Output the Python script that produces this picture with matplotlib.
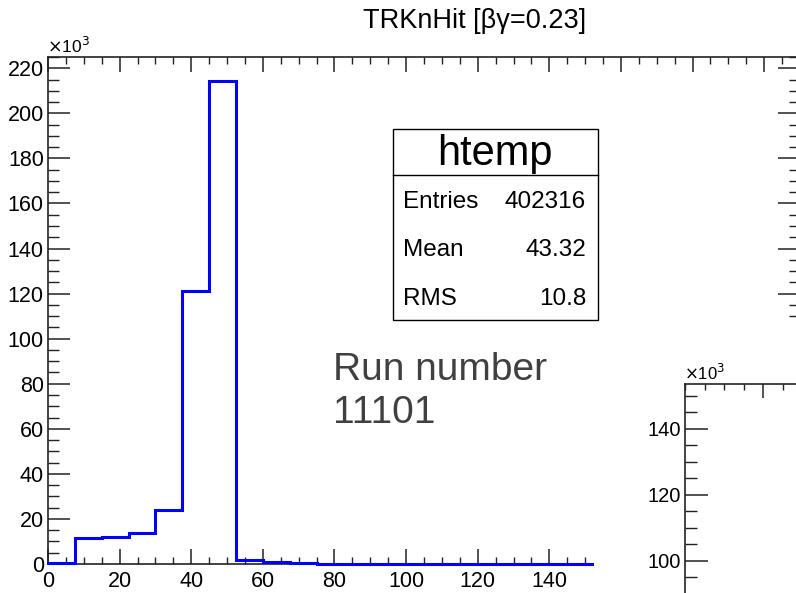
import numpy as np
import matplotlib
matplotlib.use("Agg")
import matplotlib.pyplot as plt
from matplotlib.patches import Rectangle
from matplotlib.lines import Line2D
from matplotlib.ticker import MultipleLocator, FixedLocator

plt.rcParams['font.family'] = ['Liberation Sans', 'DejaVu Sans']

# ---------------- data ----------------
title = "TRKnHit [\u03b2\u03b3=0.23]"
bin_width = 7.5
bin_start = 0.0
# counts per bin, in units of 10^3 entries (bins of width 7.5 from 0 to 210)
counts_k = [0.3, 11.5, 12.0, 13.6, 23.8, 121.2, 214.4, 1.8,
            0.75, 0.3, 0.2, 0.15, 0.15, 0.1, 0.1, 0.1,
            0.1, 0.1, 0.05, 0.05, 0.05, 0.05, 0.0, 0.0,
            0.0, 0.0, 0.0, 0.0]
stats_name = "htemp"
stats_labels = ["Entries", "Mean", "RMS"]
stats_values = ["402316", "43.32", "10.8"]
annotation_lines = ["Run number", "11101"]
x_range = (0, 210)
x_labelled_ticks = [0, 20, 40, 60, 80, 100, 120, 140]
y_range_k = (0, 225)
inset_y_range_k = (60, 153.6)
inset_y_labelled = [100, 120, 140]
inset_x_range = (1, 12)

# ---------------- figure ----------------
W, H = 796, 593
fig = plt.figure(figsize=(W / 100, H / 100), dpi=100)
fig.patch.set_facecolor('white')

def fx(x):
    return x / W

def fy(y):
    return (H - y) / H

AX_COL = '#222222'

# main axes (right edge lies just beyond the picture)
L, R, T, B = 48, 800, 57, 564
ax = fig.add_axes([fx(L), fy(B), fx(R - L), (B - T) / H])
edges = bin_start + bin_width * np.arange(len(counts_k) + 1)
ax.stairs(counts_k, edges, color='#0000ff', lw=2.2, baseline=0, zorder=3, clip_on=False)
ax.set_xlim(*x_range)
ax.set_ylim(*y_range_k)
for s in ax.spines.values():
    s.set_color(AX_COL)
    s.set_linewidth(1.2)
ax.xaxis.set_major_locator(FixedLocator(x_labelled_ticks + [160, 180, 200]))
ax.xaxis.set_minor_locator(MultipleLocator(5))
ax.yaxis.set_major_locator(MultipleLocator(20))
ax.yaxis.set_minor_locator(MultipleLocator(5))
ax.set_xticklabels([str(v) for v in x_labelled_ticks] + ["", "", ""])
ax.tick_params(axis='both', which='both', direction='in', colors=AX_COL,
               top=True, right=True, labelsize=15.5)
ax.tick_params(axis='x', which='major', length=10.8, width=1.1, pad=5)
ax.tick_params(axis='x', which='minor', length=5, width=1.0)
ax.tick_params(axis='y', which='major', length=15.8, width=1.1, pad=3)
ax.tick_params(axis='y', which='minor', length=8, width=1.0)
for lab in ax.get_xticklabels() + ax.get_yticklabels():
    lab.set_color('black')

fig.text(fx(47), fy(53), r"$\times$10$^{3}$", fontsize=12.5, ha='left', va='baseline')

# title
fig.text(fx(475), fy(28), title, fontsize=19.5, ha='center', va='baseline')

# stats box
bx0, by0, bx1, by1, bdiv = 393, 129, 598, 320, 175
fig.patches.append(Rectangle((fx(bx0), fy(by1)), fx(bx1 - bx0), (by1 - by0) / H,
                             transform=fig.transFigure, facecolor='white',
                             edgecolor='black', lw=1.0, zorder=5))
fig.lines.append(Line2D([fx(bx0), fx(bx1)], [fy(bdiv), fy(bdiv)],
                        transform=fig.transFigure, color='black', lw=1.0, zorder=6))
fig.text(fx(495), fy(165), stats_name, fontsize=30, ha='center', va='baseline', zorder=7)
for i, (lab, val) in enumerate(zip(stats_labels, stats_values)):
    yb = 208 + i * 48.5
    fig.text(fx(403), fy(yb), lab, fontsize=17.5, ha='left', va='baseline', zorder=7)
    fig.text(fx(586), fy(yb), val, fontsize=17.5, ha='right', va='baseline', zorder=7)

# run number annotation
for i, line in enumerate(annotation_lines):
    fig.text(fx(333), fy(380 + i * 43), line, fontsize=28, color='#404040',
             ha='left', va='baseline')

# inset pad covering lower-right corner
pad_x0, pad_y0 = 594, 322
pad = fig.add_axes([fx(pad_x0), 0, fx(W - pad_x0), (H - pad_y0) / H])
pad.set_facecolor('white')
pad.set_xticks([]); pad.set_yticks([])
for s in pad.spines.values():
    s.set_visible(False)

# inset axes (extends beyond the picture)
iL, iT = 685, 384
iR, iB = iL + 11 * 19.5, 693
iax = fig.add_axes([fx(iL), fy(iB), fx(iR - iL), (iB - iT) / H])
iax.set_facecolor('none')
iax.set_xlim(*inset_x_range)
iax.set_ylim(*inset_y_range_k)
for s in iax.spines.values():
    s.set_color(AX_COL)
    s.set_linewidth(1.2)
iax.xaxis.set_major_locator(MultipleLocator(5))
iax.xaxis.set_minor_locator(MultipleLocator(1))
iax.yaxis.set_major_locator(FixedLocator(inset_y_labelled))
iax.yaxis.set_minor_locator(MultipleLocator(5))
iax.tick_params(axis='both', which='both', direction='in', colors=AX_COL,
                top=True, right=True, labelbottom=False, labelsize=14.5)
iax.tick_params(axis='x', which='major', length=10, width=1.1)
iax.tick_params(axis='x', which='minor', length=4.5, width=1.0)
iax.tick_params(axis='y', which='major', length=16.5, width=1.1, pad=3)
iax.tick_params(axis='y', which='minor', length=8.5, width=1.0)
for lab in iax.get_yticklabels():
    lab.set_color('black')
fig.text(fx(684), fy(380), r"$\times$10$^{3}$", fontsize=12, ha='left', va='baseline')

fig.savefig("out.png", dpi=100, facecolor='white')
